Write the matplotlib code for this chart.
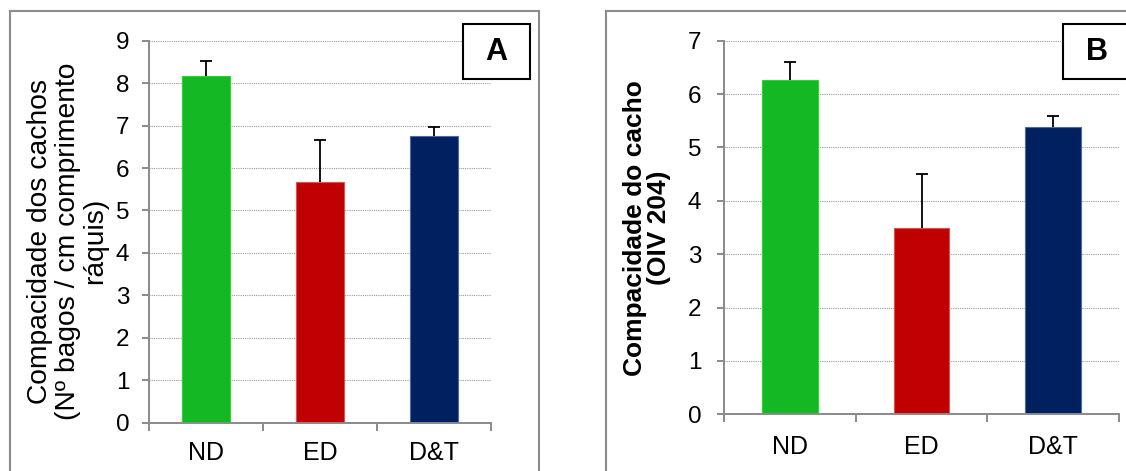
import numpy as np
import matplotlib
matplotlib.use("Agg")
import matplotlib.pyplot as plt
from matplotlib.patches import Rectangle

plt.rcParams['font.family'] = ['Liberation Sans', 'DejaVu Sans']

# Treatments
categories = ["ND", "ED", "D&T"]

# Panel A: berries per cm of rachis length
compact_a = [8.17, 5.67, 6.75]
err_a = [0.34, 1.00, 0.21]

# Panel B: OIV 204 compactness score
compact_b = [6.26, 3.49, 5.39]
err_b = [0.35, 1.01, 0.20]

bar_colors = ["#14b824", "#c00000", "#002060"]
edge_colors = ["#22dd22", "#e05050", "#4a6aa8"]

W, H = 1126, 471
fig = plt.figure(figsize=(W / 100, H / 100), dpi=100)


def px_rect(x0, y0, x1, y1):
    """Figure-fraction [left, bottom, width, height] from pixel box (top-left origin)."""
    return [x0 / W, 1 - y1 / H, (x1 - x0) / W, (y1 - y0) / H]


def panel(rect, values, errors, ymax, ylab_pad, xlab_pad):
    ax = fig.add_axes(rect)
    x = np.arange(len(categories))
    ax.bar(x, values, width=0.42, color=bar_colors, edgecolor=edge_colors,
           linewidth=0.8, zorder=3)
    zeros = np.zeros(len(values))
    _, caps, _ = ax.errorbar(x, values, yerr=[zeros, errors], fmt="none",
                             ecolor="black", elinewidth=1.3, capsize=4.5,
                             capthick=1.3, zorder=4)
    # plus-only error bars: hide the cap that sits on the bar top
    for c in caps:
        if np.allclose(c.get_ydata(), values):
            c.set_visible(False)
    ax.set_xlim(-0.5, len(categories) - 0.5)
    ax.set_ylim(0, ymax)
    ax.set_yticks(np.arange(0, ymax + 1, 1))
    ax.set_xticks(np.arange(-0.5, len(categories), 1.0))
    ax.set_xticklabels([])
    ax.set_xticks(x, minor=True)
    ax.set_xticklabels(categories, minor=True)
    ax.tick_params(axis="x", which="minor", length=0, labelsize=18,
                   pad=xlab_pad)
    ax.tick_params(axis="x", which="major", length=6, width=1.4,
                   color="#8a8a8a", direction="out")
    ax.tick_params(axis="y", length=5, width=1.4, color="#8a8a8a",
                   labelsize=17.5, pad=ylab_pad)
    for s in ("top", "right"):
        ax.spines[s].set_visible(False)
    for s in ("left", "bottom"):
        ax.spines[s].set_color("#8a8a8a")
        ax.spines[s].set_linewidth(1.4)
        ax.spines[s].set_zorder(5)
    ax.yaxis.grid(True, linestyle=(0, (1, 1)), color="#9a9a9a",
                  linewidth=0.8, zorder=0)
    ax.set_axisbelow(True)
    return ax


ax_a = panel(px_rect(149.3, 40.7, 490.7, 422.7), compact_a, err_a, 9, 9.5, 13.5)
ax_b = panel(px_rect(724.3, 40.7, 1118.7, 414.3), compact_b, err_b, 7, 11.5, 15)

# Outer panel frames
for (x0, y0, x1, y1) in [(10, 11, 539, 480), (605.7, 11, 1140, 480)]:
    l, b, w, h = px_rect(x0, y0, x1, y1)
    fig.add_artist(Rectangle((l, b), w, h, transform=fig.transFigure,
                             fill=False, edgecolor="#8c8c8c", linewidth=1.5,
                             zorder=1))

# Panel letters in boxes
for (x0, y0, x1, y1), letter, cx in [((462.7, 24.3, 530, 79.3), "A", 496.5),
                                     ((1063.3, 24.3, 1140, 79.3), "B", 1096.7)]:
    l, b, w, h = px_rect(x0, y0, x1, y1)
    fig.add_artist(Rectangle((l, b), w, h, transform=fig.transFigure,
                             facecolor="white", edgecolor="black",
                             linewidth=1.5, zorder=10))
    fig.text(cx / W, 1 - 52 / H, letter, ha="center", va="center",
             fontsize=22, fontweight="bold", zorder=11)

# Y-axis titles
fig.text(68 / W, 1 - 241 / H,
         "Compacidade dos cachos\n(Nº bagos / cm comprimento\nráquis)",
         rotation=90, ha="center", va="center", multialignment="center",
         fontsize=20.3, linespacing=1.08)
fig.text(647 / W, 1 - 228 / H, "Compacidade do cacho\n(OIV 204)",
         rotation=90, ha="center", va="center", multialignment="center",
         fontsize=19, fontweight="bold", linespacing=1.05)

fig.savefig("out.png", dpi=100)
